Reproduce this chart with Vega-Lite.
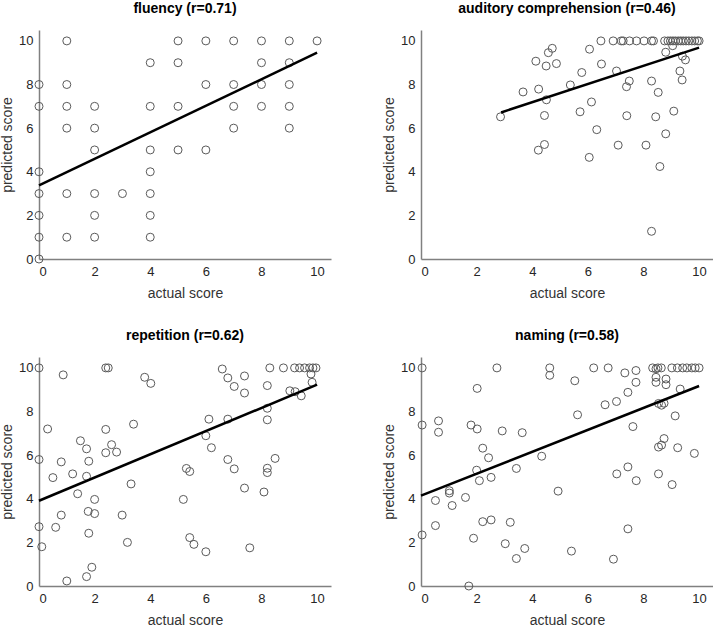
{
  "$schema": "https://vega.github.io/schema/vega-lite/v6.json",
  "padding": {"left": 0, "top": 2, "right": 0, "bottom": 0},
  "background": "white",
  "datasets": {
    "fluency": [
      {"actual":0,"predicted":0},{"actual":0,"predicted":1},{"actual":0,"predicted":2},{"actual":0,"predicted":3},{"actual":0,"predicted":4},{"actual":0,"predicted":7},{"actual":0,"predicted":8},
      {"actual":1,"predicted":10},{"actual":1,"predicted":8},{"actual":1,"predicted":7},{"actual":1,"predicted":6},{"actual":1,"predicted":3},{"actual":1,"predicted":1},
      {"actual":2,"predicted":7},{"actual":2,"predicted":6},{"actual":2,"predicted":5},{"actual":2,"predicted":3},{"actual":2,"predicted":2},{"actual":2,"predicted":1},
      {"actual":3,"predicted":3},
      {"actual":4,"predicted":9},{"actual":4,"predicted":7},{"actual":4,"predicted":5},{"actual":4,"predicted":4},{"actual":4,"predicted":3},{"actual":4,"predicted":2},{"actual":4,"predicted":1},
      {"actual":5,"predicted":10},{"actual":5,"predicted":9},{"actual":5,"predicted":7},{"actual":5,"predicted":5},
      {"actual":6,"predicted":10},{"actual":6,"predicted":8},{"actual":6,"predicted":5},
      {"actual":7,"predicted":10},{"actual":7,"predicted":8},{"actual":7,"predicted":7},{"actual":7,"predicted":6},
      {"actual":8,"predicted":10},{"actual":8,"predicted":9},{"actual":8,"predicted":8},{"actual":8,"predicted":7},
      {"actual":9,"predicted":10},{"actual":9,"predicted":9},{"actual":9,"predicted":8},{"actual":9,"predicted":7},{"actual":9,"predicted":6},
      {"actual":10,"predicted":10}
    ],
    "auditory": [
      {"actual":2.86,"predicted":6.52},{"actual":3.67,"predicted":7.66},{"actual":4.13,"predicted":9.07},{"actual":4.23,"predicted":7.79},{"actual":4.22,"predicted":4.99},{"actual":4.44,"predicted":5.25},{"actual":4.44,"predicted":6.58},{"actual":4.51,"predicted":7.30},{"actual":4.50,"predicted":8.85},{"actual":4.58,"predicted":9.46},{"actual":4.72,"predicted":9.66},{"actual":4.87,"predicted":8.96},{"actual":5.37,"predicted":7.98},{"actual":5.72,"predicted":6.75},{"actual":5.78,"predicted":8.55},{"actual":6.06,"predicted":9.62},{"actual":6.05,"predicted":4.66},{"actual":6.13,"predicted":7.20},{"actual":6.32,"predicted":5.93},{"actual":6.49,"predicted":8.94},{"actual":7.03,"predicted":8.62},{"actual":7.09,"predicted":5.22},{"actual":7.39,"predicted":7.90},{"actual":7.40,"predicted":6.57},{"actual":7.49,"predicted":8.16},{"actual":8.09,"predicted":5.22},{"actual":8.29,"predicted":8.16},{"actual":8.44,"predicted":6.52},{"actual":8.53,"predicted":7.64},{"actual":8.59,"predicted":4.24},{"actual":8.29,"predicted":1.27},{"actual":8.80,"predicted":5.74},{"actual":8.80,"predicted":9.48},{"actual":9.05,"predicted":9.78},{"actual":9.09,"predicted":6.78},{"actual":9.31,"predicted":8.62},{"actual":9.39,"predicted":8.21},{"actual":9.40,"predicted":9.30},{"actual":9.51,"predicted":9.13},
      {"actual":6.47,"predicted":10},{"actual":6.91,"predicted":10},{"actual":7.20,"predicted":10},{"actual":7.27,"predicted":10},{"actual":7.50,"predicted":10},{"actual":7.75,"predicted":10},{"actual":8.02,"predicted":10},{"actual":8.29,"predicted":10},{"actual":8.36,"predicted":10},{"actual":8.76,"predicted":10},{"actual":8.88,"predicted":10},{"actual":8.97,"predicted":10},{"actual":9.06,"predicted":10},{"actual":9.15,"predicted":10},{"actual":9.25,"predicted":10},{"actual":9.34,"predicted":10},{"actual":9.43,"predicted":10},{"actual":9.53,"predicted":10},{"actual":9.63,"predicted":10},{"actual":9.74,"predicted":10},{"actual":9.84,"predicted":10},{"actual":9.94,"predicted":10},{"actual":10.0,"predicted":10}
    ],
    "repetition": [
      {"actual":0,"predicted":10},{"actual":0.87,"predicted":9.68},{"actual":0.31,"predicted":7.20},{"actual":0,"predicted":5.80},{"actual":0,"predicted":2.72},{"actual":0.10,"predicted":1.80},{"actual":0.50,"predicted":4.97},{"actual":0.80,"predicted":5.69},{"actual":0.60,"predicted":2.69},{"actual":0.80,"predicted":3.25},{"actual":1.0,"predicted":0.23},{"actual":1.21,"predicted":5.14},{"actual":1.39,"predicted":4.23},{"actual":1.49,"predicted":6.66},{"actual":1.71,"predicted":6.29},{"actual":1.79,"predicted":5.72},{"actual":1.71,"predicted":5.03},{"actual":1.77,"predicted":3.42},{"actual":1.79,"predicted":2.42},{"actual":2.0,"predicted":3.32},{"actual":2.0,"predicted":3.97},{"actual":1.90,"predicted":0.86},{"actual":1.71,"predicted":0.43},{"actual":2.40,"predicted":10},{"actual":2.49,"predicted":10},{"actual":2.40,"predicted":7.18},{"actual":2.40,"predicted":6.11},{"actual":2.61,"predicted":6.48},{"actual":2.79,"predicted":6.14},{"actual":2.99,"predicted":3.25},{"actual":3.18,"predicted":2.0},{"actual":3.31,"predicted":4.68},{"actual":3.40,"predicted":7.42},{"actual":3.80,"predicted":9.57},{"actual":4.02,"predicted":9.29},
      {"actual":5.19,"predicted":3.97},{"actual":5.30,"predicted":5.39},{"actual":5.42,"predicted":5.25},{"actual":5.42,"predicted":2.22},{"actual":5.57,"predicted":1.91},{"actual":6.0,"predicted":1.57},{"actual":6.0,"predicted":6.89},{"actual":6.11,"predicted":7.65},{"actual":6.20,"predicted":6.34},{"actual":6.59,"predicted":9.95},{"actual":6.79,"predicted":9.54},{"actual":6.79,"predicted":7.65},{"actual":6.79,"predicted":5.80},{"actual":7.02,"predicted":9.15},{"actual":7.02,"predicted":5.37},{"actual":7.39,"predicted":9.63},{"actual":7.39,"predicted":8.85},{"actual":7.39,"predicted":4.49},{"actual":7.58,"predicted":1.75},{"actual":8.09,"predicted":4.31},{"actual":8.21,"predicted":9.19},{"actual":8.21,"predicted":8.15},{"actual":8.21,"predicted":7.62},{"actual":8.21,"predicted":5.40},{"actual":8.21,"predicted":5.20},{"actual":8.49,"predicted":5.85},{"actual":8.30,"predicted":10},{"actual":8.79,"predicted":10},{"actual":9.19,"predicted":10},{"actual":9.37,"predicted":10},{"actual":9.55,"predicted":10},{"actual":9.73,"predicted":10},{"actual":9.85,"predicted":10},{"actual":9.96,"predicted":10},{"actual":9.02,"predicted":8.95},{"actual":9.21,"predicted":8.91},{"actual":9.43,"predicted":8.72},{"actual":9.78,"predicted":9.72},{"actual":9.82,"predicted":9.34}
    ],
    "naming": [
      {"actual":0.04,"predicted":10},{"actual":0.04,"predicted":7.38},{"actual":0.04,"predicted":2.34},{"actual":0.63,"predicted":7.57},{"actual":0.63,"predicted":7.05},{"actual":0.52,"predicted":3.92},{"actual":0.52,"predicted":2.77},{"actual":1.02,"predicted":4.37},{"actual":1.02,"predicted":4.26},{"actual":1.12,"predicted":3.69},{"actual":1.60,"predicted":4.06},{"actual":1.72,"predicted":0},{"actual":1.80,"predicted":7.38},{"actual":2.02,"predicted":9.06},{"actual":2.02,"predicted":7.20},{"actual":2.0,"predicted":5.31},{"actual":2.10,"predicted":4.83},{"actual":2.22,"predicted":6.32},{"actual":2.22,"predicted":2.95},{"actual":1.89,"predicted":2.19},{"actual":2.43,"predicted":5.88},{"actual":2.52,"predicted":4.98},{"actual":2.52,"predicted":3.03},{"actual":2.73,"predicted":10},{"actual":2.92,"predicted":7.11},{"actual":3.03,"predicted":1.94},{"actual":3.21,"predicted":2.92},{"actual":3.43,"predicted":5.39},{"actual":3.43,"predicted":1.26},{"actual":3.64,"predicted":7.03},{"actual":3.73,"predicted":1.72},{"actual":4.34,"predicted":5.95},{"actual":4.63,"predicted":10},{"actual":4.63,"predicted":9.66},{"actual":4.93,"predicted":4.35},
      {"actual":5.53,"predicted":9.41},{"actual":5.63,"predicted":7.85},{"actual":5.41,"predicted":1.60},{"actual":6.21,"predicted":10},{"actual":6.73,"predicted":10},{"actual":7.33,"predicted":9.77},{"actual":7.73,"predicted":9.88},{"actual":7.73,"predicted":9.34},{"actual":7.44,"predicted":8.88},{"actual":7.03,"predicted":8.46},{"actual":6.62,"predicted":8.31},{"actual":7.62,"predicted":7.31},{"actual":7.44,"predicted":5.46},{"actual":7.04,"predicted":5.14},{"actual":7.74,"predicted":4.83},{"actual":7.44,"predicted":2.62},{"actual":6.92,"predicted":1.23},{"actual":8.33,"predicted":10},{"actual":8.45,"predicted":9.96},{"actual":8.52,"predicted":10},{"actual":8.64,"predicted":10},{"actual":9.02,"predicted":10},{"actual":9.22,"predicted":10},{"actual":9.41,"predicted":10},{"actual":9.56,"predicted":10},{"actual":9.74,"predicted":10},{"actual":9.86,"predicted":10},{"actual":10.0,"predicted":10},{"actual":8.45,"predicted":9.57},{"actual":8.45,"predicted":9.34},{"actual":8.81,"predicted":9.49},{"actual":8.81,"predicted":9.23},{"actual":9.32,"predicted":9.03},{"actual":8.54,"predicted":8.37},{"actual":8.65,"predicted":8.29},{"actual":8.74,"predicted":8.38},{"actual":9.14,"predicted":7.80},{"actual":8.74,"predicted":6.76},{"actual":8.54,"predicted":6.37},{"actual":8.65,"predicted":6.46},{"actual":9.23,"predicted":6.34},{"actual":9.83,"predicted":6.08},{"actual":8.54,"predicted":5.14},{"actual":9.03,"predicted":4.65}
    ],
    "fits": [
      {"panel":"fluency","actual":0,"predicted":3.38},{"panel":"fluency","actual":10,"predicted":9.46},
      {"panel":"auditory","actual":2.88,"predicted":6.72},{"panel":"auditory","actual":10,"predicted":9.69},
      {"panel":"repetition","actual":0,"predicted":3.91},{"panel":"repetition","actual":10,"predicted":9.23},
      {"panel":"naming","actual":0,"predicted":4.14},{"panel":"naming","actual":10,"predicted":9.17}
    ]
  },
  "columns": 2,
  "spacing": {"row": 29, "column": 51},
  "concat": [
    {
      "title": "fluency (r=0.71)",
      "width": 292, "height": 229,
      "layer": [
        {"data": {"name": "fluency"}, "mark": {"type": "point", "shape": "circle", "filled": false, "size": 64, "stroke": "#5a5a5a", "strokeWidth": 1, "opacity": 1},
         "encoding": {"x": {"field": "actual", "type": "quantitative", "scale": {"domain": [0, 10.5], "nice": false, "zero": false}, "axis": {"values": [0,2,4,6,8,10], "title": "actual score"}},
                      "y": {"field": "predicted", "type": "quantitative", "scale": {"domain": [0, 10.5], "nice": false, "zero": false}, "axis": {"values": [0,2,4,6,8,10], "title": "predicted score"}}}},
        {"data": {"name": "fits"}, "transform": [{"filter": "datum.panel === 'fluency'"}], "mark": {"type": "line", "color": "#000000", "strokeWidth": 2.5},
         "encoding": {"x": {"field": "actual", "type": "quantitative"}, "y": {"field": "predicted", "type": "quantitative"}}}
      ]
    },
    {
      "title": "auditory comprehension (r=0.46)",
      "width": 292, "height": 229,
      "layer": [
        {"data": {"name": "auditory"}, "mark": {"type": "point", "shape": "circle", "filled": false, "size": 64, "stroke": "#5a5a5a", "strokeWidth": 1, "opacity": 1},
         "encoding": {"x": {"field": "actual", "type": "quantitative", "scale": {"domain": [0, 10.5], "nice": false, "zero": false}, "axis": {"values": [0,2,4,6,8,10], "title": "actual score"}},
                      "y": {"field": "predicted", "type": "quantitative", "scale": {"domain": [0, 10.5], "nice": false, "zero": false}, "axis": {"values": [0,2,4,6,8,10], "title": "predicted score"}}}},
        {"data": {"name": "fits"}, "transform": [{"filter": "datum.panel === 'auditory'"}], "mark": {"type": "line", "color": "#000000", "strokeWidth": 2.5},
         "encoding": {"x": {"field": "actual", "type": "quantitative"}, "y": {"field": "predicted", "type": "quantitative"}}}
      ]
    },
    {
      "title": "repetition (r=0.62)",
      "width": 292, "height": 229,
      "layer": [
        {"data": {"name": "repetition"}, "mark": {"type": "point", "shape": "circle", "filled": false, "size": 64, "stroke": "#5a5a5a", "strokeWidth": 1, "opacity": 1},
         "encoding": {"x": {"field": "actual", "type": "quantitative", "scale": {"domain": [0, 10.5], "nice": false, "zero": false}, "axis": {"values": [0,2,4,6,8,10], "title": "actual score"}},
                      "y": {"field": "predicted", "type": "quantitative", "scale": {"domain": [0, 10.5], "nice": false, "zero": false}, "axis": {"values": [0,2,4,6,8,10], "title": "predicted score"}}}},
        {"data": {"name": "fits"}, "transform": [{"filter": "datum.panel === 'repetition'"}], "mark": {"type": "line", "color": "#000000", "strokeWidth": 2.5},
         "encoding": {"x": {"field": "actual", "type": "quantitative"}, "y": {"field": "predicted", "type": "quantitative"}}}
      ]
    },
    {
      "title": "naming (r=0.58)",
      "width": 292, "height": 229,
      "layer": [
        {"data": {"name": "naming"}, "mark": {"type": "point", "shape": "circle", "filled": false, "size": 64, "stroke": "#5a5a5a", "strokeWidth": 1, "opacity": 1},
         "encoding": {"x": {"field": "actual", "type": "quantitative", "scale": {"domain": [0, 10.5], "nice": false, "zero": false}, "axis": {"values": [0,2,4,6,8,10], "title": "actual score"}},
                      "y": {"field": "predicted", "type": "quantitative", "scale": {"domain": [0, 10.5], "nice": false, "zero": false}, "axis": {"values": [0,2,4,6,8,10], "title": "predicted score"}}}},
        {"data": {"name": "fits"}, "transform": [{"filter": "datum.panel === 'naming'"}], "mark": {"type": "line", "color": "#000000", "strokeWidth": 2.5},
         "encoding": {"x": {"field": "actual", "type": "quantitative"}, "y": {"field": "predicted", "type": "quantitative"}}}
      ]
    }
  ],
  "config": {
    "view": {"stroke": null},
    "font": "Liberation Sans",
    "axis": {"grid": false, "ticks": false, "domainColor": "#808080", "domainWidth": 1.5, "labelFont": "Liberation Sans", "labelFontSize": 13, "labelColor": "#262626", "labelPadding": 6, "titleFont": "Liberation Sans", "titleFontSize": 14, "titleFontWeight": "normal", "titleColor": "#333333"},
    "axisX": {"titlePadding": 8},
    "axisY": {"titlePadding": 4},
    "title": {"font": "Liberation Sans", "fontSize": 14, "fontWeight": "bold", "color": "#000000", "offset": 14}
  }
}
